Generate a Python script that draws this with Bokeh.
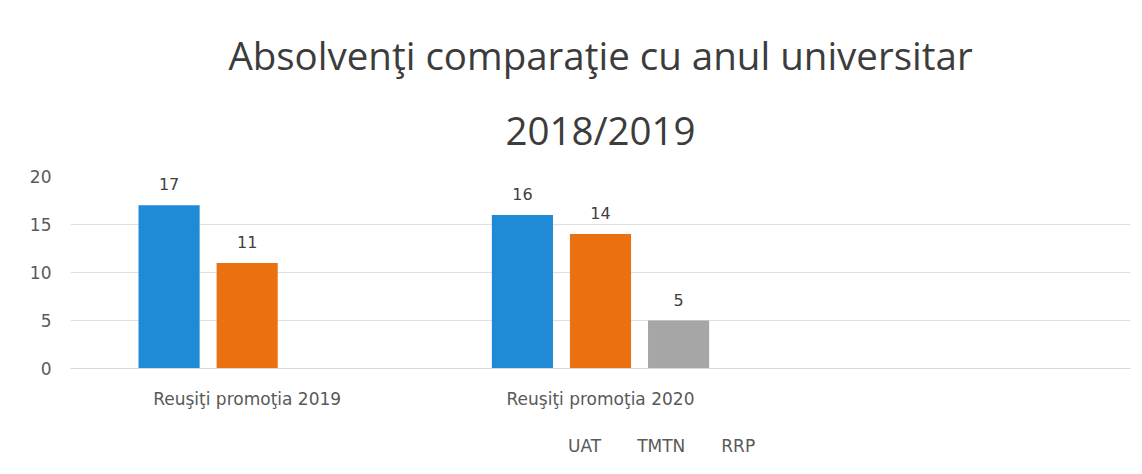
from bokeh.plotting import figure
from bokeh.layouts import column
from bokeh.models import ColumnDataSource, FactorRange, Range1d, Title, Legend, LegendItem, LabelSet
from bokeh.transform import dodge
from bokeh.core.properties import value
from bokeh.embed import file_html
from bokeh.resources import INLINE

title_lines = ["Absolvenţi comparaţie cu anul universitar", "2018/2019"]
categories = ["Reuşiţi promoţia 2019", "Reuşiţi promoţia 2020", " "]
series = ["UAT", "TMTN", "RRP"]
uat = [17, 16, None]
tmtn = [11, 14, None]
rrp = [None, 5, None]
colors = ["#1f8ad6", "#ea7010", "#a6a6a6"]
yticks = [0, 5, 10, 15, 20]

TFONT = "Open Sans"
FONT = "DejaVu Sans"
TXT = "#595959"
FS = "17px"

p = figure(x_range=FactorRange(*categories), y_range=Range1d(0, 20),
           width=1134, height=425, output_backend="svg", toolbar_location=None,
           min_border_left=70, min_border_right=4, min_border_top=176, min_border_bottom=57)

# inner (nearest the plot) line first, outer line second
for txt, so in zip(title_lines[::-1], [42, 0]):
    p.add_layout(Title(text=txt, align="center", text_font=TFONT, text_font_size="38.5px",
                       text_font_style="normal", text_color="#3c3c3c", standoff=so), "above")

offsets = [-0.221, 0.0, 0.221]
for name, vals, col, off in zip(series, [uat, tmtn, rrp], colors, offsets):
    xs = [c for c, v in zip(categories, vals) if v is not None]
    ys = [v for v in vals if v is not None]
    src = ColumnDataSource(dict(x=xs, top=ys, lab=[str(v) for v in ys]))
    p.vbar(x=dodge("x", off, range=p.x_range), top="top", width=0.173, source=src,
           fill_color=col, line_color=None)
    labels = LabelSet(x=dodge("x", off, range=p.x_range), y="top", text="lab", source=src,
                      text_align="center", text_baseline="bottom", y_offset=15,
                      text_font=value(FONT), text_font_size=value("16px"), text_color="#404040")
    p.add_layout(labels)

p.yaxis.ticker = yticks
p.yaxis.axis_line_color = None
p.yaxis.major_tick_line_color = None
p.yaxis.minor_tick_line_color = None
p.yaxis.major_label_text_font = FONT
p.yaxis.major_label_text_font_size = FS
p.yaxis.major_label_text_color = TXT
p.yaxis.major_label_standoff = 13

p.xaxis.axis_line_color = "#d9d9d9"
p.xaxis.major_tick_line_color = None
p.xaxis.minor_tick_line_color = None
p.xaxis.major_label_text_font = FONT
p.xaxis.major_label_text_font_size = FS
p.xaxis.major_label_text_color = TXT
p.xaxis.major_label_standoff = 14

p.xgrid.grid_line_color = None
p.ygrid.grid_line_color = "#e0e0e0"
p.outline_line_color = None
p.background_fill_color = "white"
p.border_fill_color = "white"

# legend strip below the chart
p2 = figure(width=1134, height=41, output_backend="svg", toolbar_location=None,
            x_range=Range1d(0, 1), y_range=Range1d(0, 1),
            x_axis_location=None, y_axis_location=None, min_border=0)
p2.grid.visible = False
p2.outline_line_color = None
p2.background_fill_color = "white"
p2.border_fill_color = "white"

items = []
for name, col in zip(series, colors):
    r = p2.vbar(x=[], top=[], width=0.1, fill_color=col, line_color=None)
    items.append(LegendItem(label=name, renderers=[r]))

legend = Legend(items=items, orientation="horizontal", location=(482, 10),
                label_text_font=FONT, label_text_font_size=FS, label_text_color=TXT,
                glyph_width=10, glyph_height=10, spacing=20, label_standoff=6,
                border_line_color=None, background_fill_alpha=0, padding=0, margin=0)
p2.add_layout(legend, "center")

open("out.html", "w").write(file_html(column(p, p2, spacing=0), INLINE))
